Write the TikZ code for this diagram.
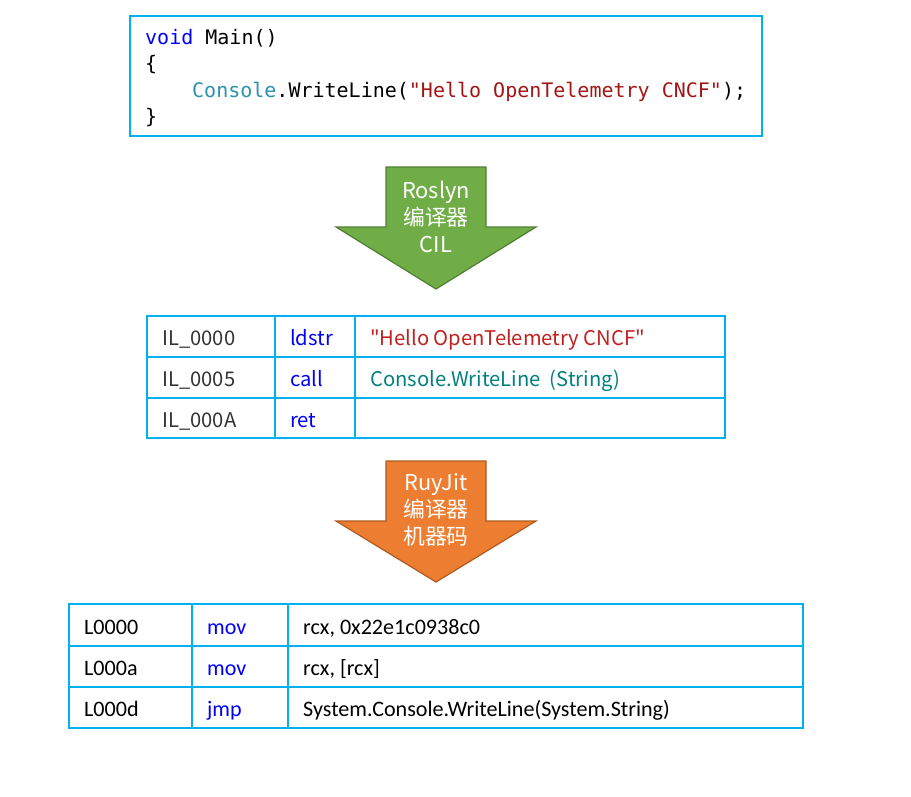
\documentclass[tikz,border=0pt]{standalone}
\usepackage{fontspec}
\setmonofont{DejaVu Sans Mono}
\newfontfamily\cjk{Noto Sans CJK SC}
\newfontfamily\calib{Carlito}
\usetikzlibrary{calc,positioning}

\definecolor{cellblue}{RGB}{0,176,240}
\definecolor{kwblue}{RGB}{0,0,255}
\definecolor{typeteal}{RGB}{43,145,175}
\definecolor{strred}{RGB}{163,21,21}
\definecolor{ilred}{RGB}{192,32,32}
\definecolor{ilteal}{RGB}{0,128,128}
\definecolor{roslyngreen}{RGB}{112,173,71}
\definecolor{roslynedge}{RGB}{80,126,50}
\definecolor{jitorange}{RGB}{237,125,49}
\definecolor{jitedge}{RGB}{174,90,33}

\tikzset{
    cellline/.style={draw=cellblue,line width=2pt},
    codetext/.style={anchor=base west,inner sep=0pt,font=\ttfamily\fontsize{20}{24}\selectfont},
    iltext/.style={anchor=base west,inner sep=0pt,font=\cjk\fontsize{20.2}{24}\selectfont,text=black!80},
    asmtext/.style={anchor=base west,inner sep=0pt,font=\calib\fontsize{22.1}{24}\selectfont},
    arrowtext/.style={align=center,text=white,inner sep=0pt,font=\cjk\fontsize{21.8}{27}\selectfont}
}

\begin{document}
\begin{tikzpicture}[x=1pt,y=-1pt]
    \useasboundingbox (0,0) rectangle (911,796);

    % Source code box
    \draw[cellline] (130,16) rectangle (762,136);
    \node[codetext] (c1) at (145,44) {\textcolor{kwblue}{void} Main()};
    \node[codetext] (c2) at (145,70) {\{};
    \node[codetext] (c3) at (192,97) {\textcolor{typeteal}{Console}.WriteLine(\textcolor{strred}{"Hello OpenTelemetry CNCF"});};
    \node[codetext] (c4) at (145,123) {\}};

    % Roslyn arrow
    \filldraw[fill=roslyngreen,draw=roslynedge,line width=1.2pt]
        (386,167) -- (486,167) -- (486,227) -- (536,227) -- (436,289)
        -- (336,227) -- (386,227) -- cycle;
    \node[arrowtext] (roslyn) at (436,217) {Roslyn\\编译器\\CIL};

    % IL table
    \draw[cellline] (147,316) rectangle (725,438);
    \foreach \y in {357,398} {
        \draw[cellline] (147,\y) -- (725,\y);
    }
    \foreach \x in {275,355} {
        \draw[cellline] (\x,316) -- (\x,438);
    }
    \node[iltext] (il1) at (162,345) {IL\_0000};
    \node[iltext] (il2) at (162,386) {IL\_0005};
    \node[iltext] (il3) at (162,427) {IL\_000A};
    \node[iltext,text=kwblue] (op1) at (290,345) {ldstr};
    \node[iltext,text=kwblue] (op2) at (290,386) {call};
    \node[iltext,text=kwblue] (op3) at (290,427) {ret};
    \node[iltext,text=ilred] (arg1) at (370,345) {"Hello OpenTelemetry CNCF"};
    \node[iltext,text=ilteal] (arg2) at (370,386) {Console.WriteLine~~(String)};

    % RyuJit arrow
    \filldraw[fill=jitorange,draw=jitedge,line width=1.2pt]
        (386,461) -- (486,461) -- (486,521) -- (536,521) -- (436,582)
        -- (336,521) -- (386,521) -- cycle;
    \node[arrowtext] (ryujit) at (436,510) {RuyJit\\编译器\\机器码};

    % Machine code table
    \draw[cellline] (69,604) rectangle (803,728);
    \foreach \y in {646,687} {
        \draw[cellline] (69,\y) -- (803,\y);
    }
    \foreach \x in {192,288} {
        \draw[cellline] (\x,604) -- (\x,728);
    }
    \node[asmtext] (l1) at (84,634) {L0000};
    \node[asmtext] (l2) at (84,675) {L000a};
    \node[asmtext] (l3) at (84,716) {L000d};
    \node[asmtext,text=kwblue] (m1) at (207,634) {mov};
    \node[asmtext,text=kwblue] (m2) at (207,675) {mov};
    \node[asmtext,text=kwblue] (m3) at (207,716) {jmp};
    \node[asmtext] (a1) at (303,634) {rcx, 0x22e1c0938c0};
    \node[asmtext] (a2) at (303,675) {rcx, [rcx]};
    \node[asmtext] (a3) at (303,716) {System.Console.WriteLine(System.String)};
\end{tikzpicture}
\end{document}
